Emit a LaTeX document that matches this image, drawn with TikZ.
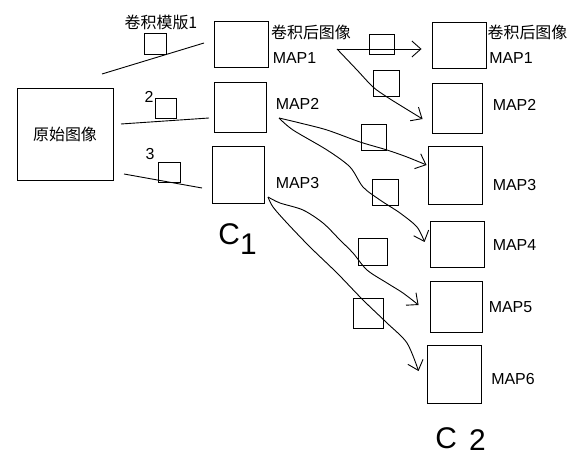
\documentclass[tikz,border=0pt]{standalone}
\usepackage{fontspec}
\setmainfont{Liberation Sans}
\newfontfamily\cjk{Noto Sans CJK SC}
\usetikzlibrary{calc}
\usetikzlibrary{arrows.meta}
\newcommand{\fmap}[6]{
  \node[draw, inner sep=0pt, minimum width=#4bp, minimum height=#5bp] (#1) at (#2,#3) {#6};
}

\begin{document}
\begin{tikzpicture}[x=1bp, y=-1bp, line width=0.9bp,
    lbl/.style={inner sep=0pt, font=\fontsize{16}{18}\selectfont},
    hand/.style={inner sep=0pt, anchor=base west, font=\fontsize{30}{32}\selectfont},
    arr/.style={-{Straight Barb[length=9bp,width=16bp]}}]
  \useasboundingbox (0,0) rectangle (586,468);
  % source image and the three kernels
  \fmap{src}{65}{134}{96}{92}{\cjk\fontsize{16}{18}\selectfont 原始图像}
  \fmap{k1}{155}{43.5}{22}{21}{}
  \fmap{k2}{165.5}{108}{21}{20}{}
  \fmap{k3}{169}{172}{22}{20}{}
  \node[lbl] (k1l) at (161,22) {\cjk 卷积模版1};
  \node[lbl] (k2l) at (149,97) {2};
  \node[lbl] (k3l) at (150,154) {3};
  \coordinate (s1) at (102,74);  \coordinate (e1) at (204,43);
  \coordinate (s2) at (121,124); \coordinate (e2) at (209,118);
  \coordinate (s3) at (124,174); \coordinate (e3) at (202,188);
  \draw (s1) -- (e1);
  \draw (s2) -- (e2);
  \draw (s3) -- (e3);
  % layer C1
  \fmap{p1}{241}{44}{54}{46}{}
  \fmap{p2}{240}{107}{52}{50}{}
  \fmap{p3}{238}{174.5}{52}{57}{}
  \node[lbl] (h1) at (311,32) {\cjk 卷积后图像};
  \foreach \n/\x/\y in {1/294.5/58, 2/297.5/104, 3/297.5/183}
    \node[lbl] (pm\n) at (\x,\y) {MAP\n};
  \node[hand] (c1) at (218,245) {C\raisebox{-10bp}{1}};
  % layer C2
  \fmap{q1}{459}{45}{54}{46}{}
  \fmap{q2}{457}{108}{50}{50}{}
  \fmap{q3}{455}{175}{54}{58}{}
  \fmap{q4}{457}{244}{54}{46}{}
  \fmap{q5}{456}{306.5}{52}{51}{}
  \fmap{q6}{454}{374}{54}{58}{}
  \node[lbl] (h2) at (527.5,32) {\cjk 卷积后图像};
  \foreach \n/\x/\y in {1/511/58, 2/514.5/105, 3/514.5/185, 4/514.5/245, 5/510.5/307, 6/513/379}
    \node[lbl] (qm\n) at (\x,\y) {MAP\n};
  \node[hand] (c2) at (435,448) {C\hspace{12bp}\raisebox{-2bp}{2}};
  % kernels between C1 and C2
  \fmap{w1}{381.5}{44}{25}{20}{}
  \fmap{w2}{386}{83}{26}{26}{}
  \fmap{w3}{373.5}{137}{25}{26}{}
  \fmap{w4}{385}{192}{26}{26}{}
  \fmap{w5}{372.5}{251.5}{29}{27}{}
  \fmap{w6}{368}{313}{30}{30}{}
  % connectors
  \coordinate (o1) at (337,49);
  \coordinate (o2) at (279,118);
  \coordinate (o3) at (268,197);
  \coordinate (t1) at ($(q1.west)+(-10,4)$);
  \coordinate (t2) at ($(q2.west)+(-9,11)$);
  \coordinate (t3) at ($(q3.west)+(-1,-10)$);
  \coordinate (t4) at ($(q4.west)+(-5,-2)$);
  \coordinate (t5) at ($(q5.west)+(-11,-1.5)$);
  \coordinate (t6) at ($(q6.west)+(-8,-3)$);
  \draw[arr] (o1) -- (t1);
  \draw[arr] plot[smooth] coordinates {(o1) (357,70) (373,87) (387,97) (403,107) (t2)};
  \draw[arr] plot[smooth] coordinates {(o2) (300,123) (327,130) (360,142) (387,150) (407,157) (t3)};
  \draw[arr] plot[smooth] coordinates {(o2) (293,130) (327,150) (350,167) (363,187) (380,200) (400,213) (417,227) (t4)};
  \draw[arr] plot[smooth] coordinates {(o3) (280,203) (303,210) (323,223) (340,240) (353,253) (367,270) (387,283) (403,293) (t5)};
  \draw[arr] plot[smooth] coordinates {(o3) (273,207) (287,223) (310,247) (337,273) (363,300) (387,323) (407,343) (t6)};
\end{tikzpicture}
\end{document}
